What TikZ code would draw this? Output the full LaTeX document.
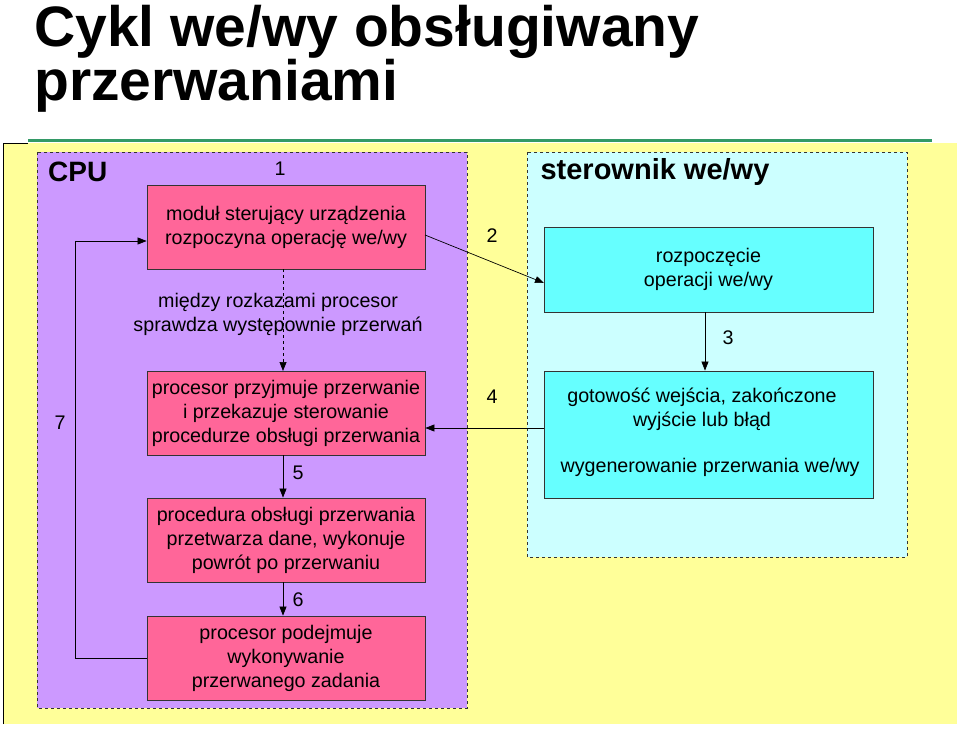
\documentclass[tikz,border=0pt]{standalone}
\usepackage{fontspec}
\setmainfont{Liberation Sans}
\usetikzlibrary{arrows.meta}
\definecolor{bgy}{HTML}{FFFF99}
\definecolor{cpu}{HTML}{CC99FF}
\definecolor{ctl}{HTML}{CCFFFF}
\definecolor{pk}{HTML}{FF6699}
\definecolor{cy}{HTML}{66FFFF}
\definecolor{gr}{HTML}{339966}
\tikzset{
 pbox/.style={draw=black!80,line width=0.8pt,fill=pk,minimum width=278pt,minimum height=84pt,align=center,font=\fontsize{19.7}{24}\selectfont,inner sep=0pt},
 cbox/.style={draw=black!80,line width=0.8pt,fill=cy,minimum width=329pt,align=center,font=\fontsize{19.7}{24}\selectfont,inner sep=0pt},
 lbl/.style={font=\fontsize{19.7}{22}\selectfont},
 arr/.style={-{Triangle[length=9pt,width=7pt]},line width=0.7pt},
 dbox/.style={dashed,draw=black!80,line width=0.6pt}
}
\begin{document}
\begin{tikzpicture}[x=1pt,y=-1pt]
\useasboundingbox (0,0) rectangle (960,728);
\fill[white] (0,0) rectangle (960,728);
\node[anchor=base west,font=\bfseries\fontsize{57}{60}\selectfont,inner sep=0pt] (t1) at (34,46) {Cykl we/wy obsługiwany};
\node[anchor=base west,font=\bfseries\fontsize{57}{60}\selectfont,inner sep=0pt] (t2) at (34,100) {przerwaniami};
\fill[bgy] (3,143) rectangle (957,724);
\draw[gr,line width=3pt] (28,140) -- (932,140);
\draw[black,line width=1pt] (3,724) -- (3,143) -- (28,143);
\filldraw[fill=cpu,dbox] (37,152) rectangle (467,708);
\filldraw[fill=ctl,dbox] (527,152) rectangle (907,557);
\node[anchor=west,font=\bfseries\fontsize{28}{30}\selectfont,inner sep=0pt] (cpu) at (48,172) {CPU};
\node[font=\bfseries\fontsize{29}{32}\selectfont] (ster) at (655,172) {sterownik we/wy};
\node[pbox] (b1) at (286,227) {moduł sterujący urządzenia\\rozpoczyna operację we/wy};
\node[pbox] (b2) at (286,413) {procesor przyjmuje przerwanie\\i przekazuje sterowanie\\procedurze obsługi przerwania};
\node[pbox] (b3) at (286,540) {procedura obsługi przerwania\\przetwarza dane, wykonuje\\powrót po przerwaniu};
\node[pbox] (b4) at (286,658) {procesor podejmuje\\wykonywanie\\przerwanego zadania};
\node[cbox,minimum height=85pt] (c1) at (708.5,269.5) {rozpoczęcie\\operacji we/wy};
\node[cbox,minimum height=127pt] (c2) at (708.5,434.5) {};
\node[align=center,font=\fontsize{19.7}{24}\selectfont] (c2a) at (702,409) {gotowość wejścia, zakończone\\wyjście lub błąd};
\node[lbl] (c2b) at (710,467) {wygenerowanie przerwania we/wy};
\node[align=center,font=\fontsize{19.7}{24}\selectfont] (mid) at (278,314) {między rozkazami procesor\\sprawdza występownie przerwań};
\node[lbl] (n1) at (280,169) {1};
\node[lbl] (n2) at (492,236) {2};
\node[lbl] (n3) at (728,338) {3};
\node[lbl] (n4) at (492,397) {4};
\node[lbl] (n5) at (298,473) {5};
\node[lbl] (n6) at (298,600) {6};
\node[lbl] (n7) at (60,423) {7};
\coordinate (p1) at (425,235);
\coordinate (p2) at (544,283);
\draw[arr] (p1) -- (p2);
\draw[arr,dashed] (283,269) -- (283,371);
\draw[arr] (c1.south -| 705,0) -- (c2.north -| 705,0);
\draw[arr] (c2.west |- 0,428) -- (b2.east |- 0,428);
\draw[arr] (b2.south -| 283,0) -- (b3.north -| 283,0);
\draw[arr] (b3.south -| 283,0) -- (b4.north -| 283,0);
\draw[arr] (b4.west |- 0,658) -- (75,658) -- (75,241) -- (b1.west |- 0,241);
\end{tikzpicture}
\end{document}
